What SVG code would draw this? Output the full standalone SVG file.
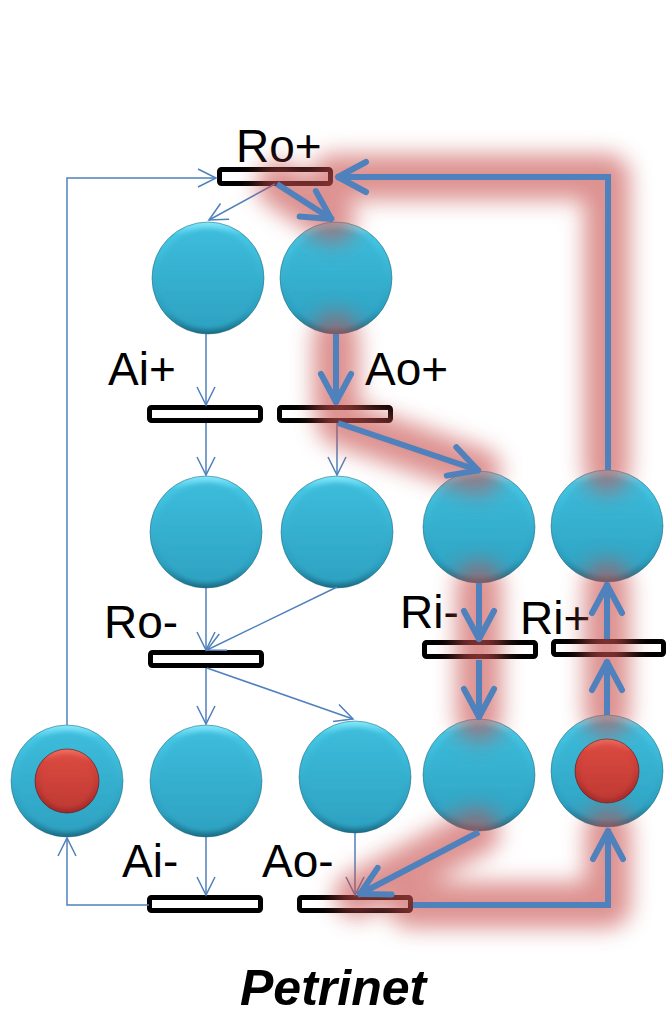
<svg xmlns="http://www.w3.org/2000/svg" width="666" height="1014" viewBox="0 0 666 1014">
  <defs>
    <linearGradient id="rim" x1="0" y1="0" x2="0" y2="1">
      <stop offset="0" stop-color="#86E8FA"/>
      <stop offset="0.12" stop-color="#45C6E4"/>
      <stop offset="0.8" stop-color="#2C9EBE"/>
      <stop offset="1" stop-color="#1B6E87"/>
    </linearGradient>
    <linearGradient id="face" x1="0" y1="0" x2="0" y2="1">
      <stop offset="0" stop-color="#3DBCDB"/>
      <stop offset="1" stop-color="#2EA2C2"/>
    </linearGradient>
    <linearGradient id="tokrim" x1="0" y1="0" x2="0" y2="1">
      <stop offset="0" stop-color="#F07060"/>
      <stop offset="0.2" stop-color="#D8463E"/>
      <stop offset="1" stop-color="#A02826"/>
    </linearGradient>
    <linearGradient id="tokface" x1="0" y1="0" x2="0" y2="1">
      <stop offset="0" stop-color="#DA4A40"/>
      <stop offset="1" stop-color="#C03A34"/>
    </linearGradient>
    <filter id="soft" x="-20%" y="-20%" width="140%" height="140%">
      <feGaussianBlur stdDeviation="2"/>
    </filter>
    <filter id="glowblur" x="-50%" y="-50%" width="200%" height="200%">
      <feGaussianBlur stdDeviation="11"/>
    </filter>
    <marker id="thin" markerUnits="userSpaceOnUse" viewBox="-20 -11 22 22" refX="0" refY="0" markerWidth="22" markerHeight="22" orient="auto">
      <path d="M-18,-9 L0,0 L-18,9" fill="none" stroke="#4F81BD" stroke-width="1.5"/>
    </marker>
    <marker id="thick" markerUnits="userSpaceOnUse" viewBox="-34 -20 40 40" refX="2" refY="0" markerWidth="40" markerHeight="40" orient="auto">
      <path d="M-28,-15 L0,0 L-28,15" fill="none" stroke="#4F81BD" stroke-width="6" stroke-linecap="round" stroke-linejoin="round"/>
    </marker>
    <g id="place">
      <circle r="56" fill="url(#rim)"/>
      <circle r="50" cy="1" fill="url(#face)" filter="url(#soft)"/>
      <circle r="56" fill="none" stroke="#1A6078" stroke-opacity="0.5" stroke-width="1"/>
    </g>
    <g id="token">
      <circle r="32" fill="url(#tokrim)"/>
      <circle r="27" cy="1" fill="url(#tokface)" filter="url(#soft)"/>
      <circle r="32" fill="none" stroke="#5A1010" stroke-opacity="0.6" stroke-width="1"/>
    </g>
  </defs>
  <style>
    .tr { fill: #FFFFFF; stroke: #000000; stroke-width: 5; }
    .lbl { font-family: "Liberation Sans", Arial, sans-serif; font-size: 46px; fill: #000000; }
    .title { font-family: "Liberation Sans", Arial, sans-serif; font-size: 50px; font-weight: bold; font-style: italic; fill: #000000; }
    .thin { fill: none; stroke: #4F81BD; stroke-width: 1.5; marker-end: url(#thin); }
    .thick { fill: none; stroke: #4F81BD; stroke-width: 6; marker-end: url(#thick); }
    .glow { fill: none; stroke: #C8504D; stroke-width: 46; stroke-linecap: round; stroke-linejoin: round; }
  </style>
  <rect width="666" height="1014" fill="#FFFFFF"/>

  <g id="places">
    <use id="p1" href="#place" x="208" y="278"/>
    <use id="p2" href="#place" x="336" y="278"/>
    <use id="p3" href="#place" x="206" y="532"/>
    <use id="p4" href="#place" x="337" y="532"/>
    <use id="p5" href="#place" x="479" y="527"/>
    <use id="p6" href="#place" x="607" y="526"/>
    <g id="p7"><use href="#place" x="67" y="781"/><use href="#token" x="67" y="781"/></g>
    <use id="p8" href="#place" x="206" y="781"/>
    <use id="p9" href="#place" x="355" y="777"/>
    <use id="p10" href="#place" x="479" y="775"/>
    <g id="p11"><use href="#place" x="607" y="771"/><use href="#token" x="607" y="771"/></g>
  </g>

  <g id="transitions">
    <g id="t-ro-plus"><rect class="tr" x="219.5" y="169.5" width="111" height="14" rx="2"/><text class="lbl" x="236" y="162">Ro+</text></g>
    <g id="t-ai-plus"><rect class="tr" x="149.5" y="407.5" width="111" height="13" rx="2"/><text class="lbl" x="108" y="385">Ai+</text></g>
    <g id="t-ao-plus"><rect class="tr" x="279.5" y="407.5" width="111" height="13" rx="2"/><text class="lbl" x="365" y="385">Ao+</text></g>
    <g id="t-ro-minus"><rect class="tr" x="150.5" y="652.5" width="111" height="13" rx="2"/><text class="lbl" x="104" y="638">Ro-</text></g>
    <g id="t-ri-minus"><rect class="tr" x="424.5" y="642.5" width="111" height="14" rx="2"/><text class="lbl" x="400" y="628">Ri-</text></g>
    <g id="t-ri-plus"><rect class="tr" x="553.5" y="641.5" width="110" height="13" rx="2"/><text class="lbl" x="520" y="634">Ri+</text></g>
    <g id="t-ai-minus"><rect class="tr" x="149.5" y="897.5" width="111" height="13" rx="2"/><text class="lbl" x="122" y="877">Ai-</text></g>
    <g id="t-ao-minus"><rect class="tr" x="299.5" y="897.5" width="111" height="13" rx="2"/><text class="lbl" x="262" y="877">Ao-</text></g>
  </g>

  <g id="connectors">
    <g id="thin-arcs">
      <path class="thin" d="M67,725 V178 H216"/>
      <path class="thin" d="M149,905 H67 V838"/>
      <path class="thin" d="M275,184 L209,220"/>
      <path class="thin" d="M206,334 V405"/>
      <path class="thin" d="M206,423 V475"/>
      <path class="thin" d="M337,423 V475"/>
      <path class="thin" d="M206,588 V650"/>
      <path class="thin" d="M337,587 L207,650"/>
      <path class="thin" d="M206,668 V724"/>
      <path class="thin" d="M207,668 L353,719"/>
      <path class="thin" d="M206,837 V895"/>
      <path class="thin" d="M355,833 V895"/>
    </g>
    <g id="highlight" filter="url(#glowblur)" opacity="0.62">
      <path class="glow" d="M607,470 V177 H334"/>
      <path class="glow" d="M279,184 L333,220"/>
      <path class="glow" d="M336,336 V405"/>
      <path class="glow" d="M340,423 L478,471"/>
      <path class="glow" d="M479,585 V718"/>
      <path class="glow" d="M477,832 L357,895"/>
      <path class="glow" d="M411,905 H608 V830"/>
      <path class="glow" d="M607,714 V584"/>
    </g>
    <g id="thick-arcs">
      <path class="thick" d="M608,470 V177 H336"/>
      <path class="thick" d="M277,184 L333,220"/>
      <path class="thick" d="M336,334 V404"/>
      <path class="thick" d="M338,423 L480,471"/>
      <path class="thick" d="M479,583 V641"/>
      <path class="thick" d="M479,660 V719"/>
      <path class="thick" d="M479,832 L358,895"/>
      <path class="thick" d="M413,905 H608 V829"/>
      <path class="thick" d="M607,715 V660"/>
      <path class="thick" d="M607,639 V583"/>
    </g>
  </g>

  <text class="title" x="240" y="1005">Petrinet</text>
</svg>
